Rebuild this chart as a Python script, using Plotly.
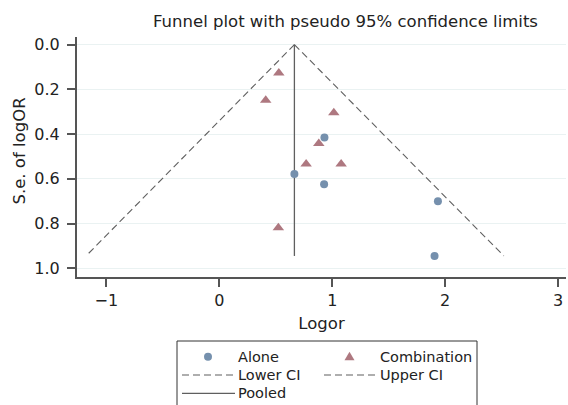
import plotly.graph_objects as go

# ---- data ----
alone_logor = [0.665, 0.928, 0.931, 1.936, 1.906]
alone_se = [0.578, 0.624, 0.415, 0.700, 0.945]

comb_logor = [0.527, 0.411, 1.014, 0.881, 0.769, 1.079, 0.523]
comb_se = [0.127, 0.249, 0.305, 0.442, 0.534, 0.534, 0.819]

ci_se = [0.0, 0.945]
lower_ci = [0.665, -1.18]
upper_ci = [0.665, 2.52]
pooled_x = [0.665, 0.665]
pooled_se = [0.0, 0.945]

x_ticks = [-1, 0, 1, 2, 3]
y_ticks = [0.0, 0.2, 0.4, 0.6, 0.8, 1.0]
y_ticklabels = ["0.0", "0.2", "0.4", "0.6", "0.8", "1.0"]

legend_names = ["Alone", "Combination", "Lower CI", "Upper CI", "Pooled"]

FONT = "DejaVu Sans"
TXT = "#222222"
AX = "#555555"
C_ALONE = "#7590ad"
C_COMB = "#ae7880"
LINE = "#5f5f5f"
DASH = "7px,4px"

fig = go.Figure()

fig.add_trace(go.Scatter(x=lower_ci, y=ci_se, mode="lines", name="Lower CI",
                         line=dict(color=LINE, width=1.1, dash=DASH)))
fig.add_trace(go.Scatter(x=upper_ci, y=ci_se, mode="lines", name="Upper CI",
                         line=dict(color=LINE, width=1.1, dash=DASH)))
fig.add_trace(go.Scatter(x=pooled_x, y=pooled_se, mode="lines", name="Pooled",
                         line=dict(color=LINE, width=1.3)))
fig.add_trace(go.Scatter(x=alone_logor, y=alone_se, mode="markers", name="Alone",
                         marker=dict(symbol="circle", size=8, color=C_ALONE)))
fig.add_trace(go.Scatter(x=comb_logor, y=comb_se, mode="markers", name="Combination",
                         marker=dict(symbol="triangle-up", size=10, color=C_COMB)))

W, H = 568, 405
ml, mr, mt, mb = 77, 2, 37, 128
pw = W - ml - mr
ph = H - mt - mb


def px(xp):
    return (xp - ml) / pw


def py(yp):
    return (H - mb - yp) / ph


fig.update_layout(
    width=W, height=H,
    margin=dict(l=ml, r=mr, t=mt, b=mb, pad=0),
    paper_bgcolor="white", plot_bgcolor="white",
    font=dict(family=FONT, color=TXT, size=16),
    showlegend=False,
    title=dict(text="Funnel plot with pseudo 95% confidence limits",
               font=dict(family=FONT, size=16.5, color=TXT),
               x=345.5 / W, xref="container", xanchor="center",
               y=1 - 21.5 / H, yref="container", yanchor="middle"),
    xaxis=dict(range=[-1.26, 3.07], tickmode="array", tickvals=x_ticks,
               showgrid=False, zeroline=False,
               showline=True, linecolor=AX, linewidth=2,
               ticks="outside", ticklen=8, tickwidth=1.5, tickcolor=AX,
               tickfont=dict(size=16, family=FONT, color=TXT),
               title=dict(text="Logor", font=dict(size=16.5, family=FONT, color=TXT),
                          standoff=8),
               automargin=False),
    yaxis=dict(range=[1.039, -0.034], tickmode="array", tickvals=y_ticks,
               ticktext=y_ticklabels,
               showgrid=True, gridcolor="#eaf2f2", gridwidth=1, zeroline=False,
               showline=True, linecolor=AX, linewidth=2,
               ticks="outside", ticklen=8, tickwidth=1.5, tickcolor=AX,
               ticklabelstandoff=4,
               tickfont=dict(size=16, family=FONT, color=TXT),
               automargin=False),
)

# y-axis title placed like the reference
fig.add_annotation(text="S.e. of logOR", xref="paper", yref="paper",
                   x=px(18.5), y=py(151),
                   textangle=-90, showarrow=False, xanchor="center", yanchor="middle",
                   font=dict(size=16.5, family=FONT, color=TXT))

# ---- legend (drawn as a framed key below the axis) ----
LFONT = dict(size=14.5, family=FONT, color=TXT)
rows = [356.7, 375.0, 393.3]
col_sym = [182, 324]
col_txt = [236.5, 378.5]

# frame
fig.add_shape(type="rect", xref="paper", yref="paper",
              x0=px(177), x1=px(477), y0=py(425), y1=py(341),
              line=dict(color="#333333", width=1), fillcolor="rgba(0,0,0,0)",
              layer="above")

# Alone marker
fig.add_shape(type="circle", xref="paper", yref="paper",
              xsizemode="pixel", ysizemode="pixel",
              xanchor=px(208), yanchor=py(rows[0]),
              x0=-4, x1=4, y0=-4, y1=4,
              fillcolor=C_ALONE, line=dict(width=0), layer="above")
# Combination marker
fig.add_shape(type="path", xref="paper", yref="paper",
              xsizemode="pixel", ysizemode="pixel",
              xanchor=px(349.5), yanchor=py(rows[0]),
              path="M-5,-3.5 L5,-3.5 L0,5 Z",
              fillcolor=C_COMB, line=dict(width=0), layer="above")
# Lower CI / Upper CI dashed samples
for c in range(2):
    fig.add_shape(type="line", xref="paper", yref="paper",
                  x0=px(col_sym[c]), x1=px(col_sym[c] + 53),
                  y0=py(rows[1]), y1=py(rows[1]),
                  line=dict(color=LINE, width=1.1, dash="7px,4px"), layer="above")
# Pooled solid sample
fig.add_shape(type="line", xref="paper", yref="paper",
              x0=px(col_sym[0]), x1=px(col_sym[0] + 53),
              y0=py(rows[2]), y1=py(rows[2]),
              line=dict(color=LINE, width=1.3), layer="above")

positions = [(0, 0), (1, 0), (0, 1), (1, 1), (0, 2)]
for name, (c, r) in zip(legend_names, positions):
    fig.add_annotation(text=name, xref="paper", yref="paper",
                       x=px(col_txt[c]), y=py(rows[r]),
                       xanchor="left", yanchor="middle", showarrow=False,
                       borderpad=0, font=LFONT)

fig.write_html("out.html",
               config={"displayModeBar": False},
               post_script="document.body.style.margin='0';"
                           "document.body.style.overflow='hidden';")
